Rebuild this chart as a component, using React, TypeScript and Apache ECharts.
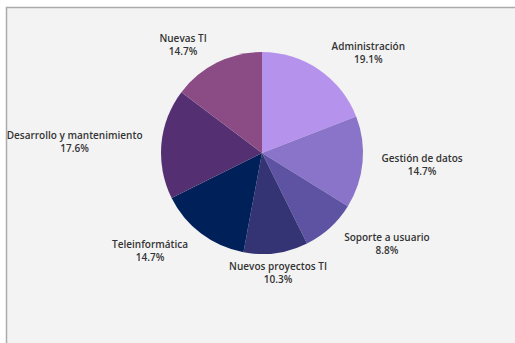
import React, { useEffect, useRef } from "react";
import * as echarts from "echarts";

const categories = [
  "Administración",
  "Gestión de datos",
  "Soporte a usuario",
  "Nuevos proyectos TI",
  "Teleinformática",
  "Desarrollo y mantenimiento",
  "Nuevas TI",
];
const values = [13, 10, 6, 7, 10, 12, 10];
const colors = ["#b593ec", "#8a74c9", "#5e53a3", "#343475", "#00205a", "#543072", "#8b4c86"];

const CX = 262;
const CY = 153;
const RADIUS = 101;
const LABEL_R = 116;

export default function App() {
  const ref = useRef<HTMLDivElement>(null);
  useEffect(() => {
    if (!ref.current) return;
    const chart = echarts.init(ref.current, undefined, { renderer: "svg" });
    const total = values.reduce((a, b) => a + b, 0);
    const mids: number[] = [];
    let acc = 0;
    values.forEach((v) => {
      mids.push(((acc + v / 2) / total) * Math.PI * 2);
      acc += v;
    });
    const side = (t: number) => Math.sign(t) * Math.max(0, Math.min(1, (Math.abs(t) - 0.15) / 0.3));
    chart.setOption({
      animation: false,
      backgroundColor: "#ffffff",
      graphic: [
        {
          type: "rect",
          shape: { x: 6.5, y: 7.5, width: 600, height: 400 },
          style: { fill: "#f3f3f3", stroke: "#ababab", lineWidth: 1.5 },
          z: -10,
          silent: true,
        },
      ],
      series: [
        {
          type: "pie",
          center: [CX, CY],
          radius: [0, RADIUS],
          startAngle: 90,
          clockwise: true,
          avoidLabelOverlap: false,
          data: categories.map((name, i) => ({
            name,
            value: values[i],
            itemStyle: { color: colors[i] },
          })),
          itemStyle: { borderWidth: 0 },
          label: {
            show: true,
            position: "outside",
            formatter: (p: any) => `${p.name}\n${((p.value / total) * 100).toFixed(1)}%`,
            fontFamily: "Open Sans",
            fontSize: 10,
            fontWeight: 600,
            lineHeight: 13,
            color: "#333333",
            align: "center",
          },
          labelLine: { show: false },
          labelLayout: (params: any) => {
            const a = mids[params.dataIndex];
            const ux = Math.sin(a);
            const uy = -Math.cos(a);
            const px = CX + LABEL_R * ux;
            const py = CY + LABEL_R * uy;
            const w = params.labelRect.width;
            return {
              x: px + side(ux) * (w / 2 + 4),
              y: py + Math.max(-1, Math.min(1, uy * 2.5)) * 5,
              align: "center",
              verticalAlign: "middle",
            };
          },
          emphasis: { disabled: true },
        },
      ],
    });
    return () => chart.dispose();
  }, []);
  return (
    <div
      ref={ref}
      style={{ position: "absolute", left: 0, top: 0, width: 515, height: 343 }}
    />
  );
}
